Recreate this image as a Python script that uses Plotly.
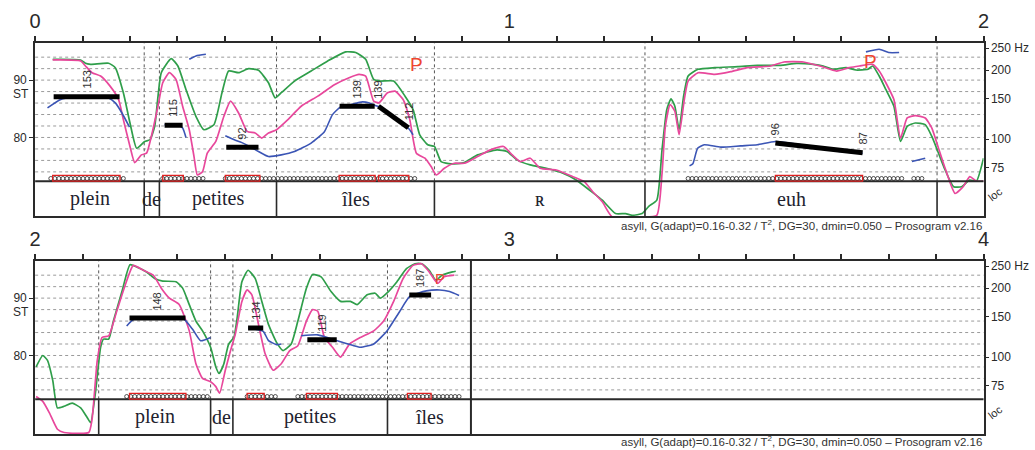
import numpy as np
import plotly.graph_objects as go

# ---------------- data (time in s, values in semitones re 1 Hz) ----------------
GREEN_TOP = [(0.037,93.63),(0.096,93.51),(0.106,92.93),(0.117,92.75),(0.155,92.93),(0.169,92.17),(0.186,87.8),
 (0.200,82.52),(0.214,78.13),(0.231,79.3),(0.242,79.6),(0.252,81.9),(0.266,91.29),(0.287,93.75),(0.301,92.46),
 (0.318,88.37),(0.339,83.69),(0.356,81.35),(0.377,82.23),(0.394,87.8),(0.408,91.58),(0.429,91.29),(0.450,91.99),
 (0.471,91.7),(0.492,89.54),(0.506,86.91),(0.519,87.8),(0.547,89.83),(0.582,91.58),(0.617,93.34),(0.655,94.92),
 (0.676,94.8),(0.697,93.63),(0.714,90.12),(0.728,89.83),(0.756,89.83),(0.780,87.2),(0.797,84.86),(0.811,80.47),
 (0.828,78.72),(0.842,78.43),(0.856,75.8),(0.877,75.39),(0.905,75.62),(0.933,76.96),(0.974,77.84),(0.995,77.55),
 (1.016,76.09),(1.044,75.21),(1.078,74.63),(1.113,73.75),(1.141,72.58),(1.169,70.82),(1.196,69.07),(1.224,66.73),
 (1.245,66.73),(1.259,66.44),(1.280,66.73),(1.294,68.0),(1.311,69.07),(1.322,77.84),(1.332,84.86),(1.341,86.73),
 (1.349,85.44),(1.358,81.35),(1.367,86.91),(1.377,90.71),(1.398,91.88),(1.433,92.17),(1.482,92.35),(1.523,92.58),
 (1.572,92.58),(1.606,92.93),(1.641,92.75),(1.662,92.46),(1.683,91.88),(1.710,92.17),(1.731,91.76),(1.756,91.88),
 (1.766,92.46),(1.780,90.71),(1.794,88.37),(1.811,85.44),(1.825,79.3),(1.839,81.94),(1.856,82.52),(1.877,82.23),
 (1.891,80.18),(1.905,77.26),(1.919,74.33),(1.937,71.41),(1.954,71.41),(1.971,72.58),(1.985,72.4),(2.0,76.4)]

PINK_TOP = [(0.037,93.51),(0.096,93.34),(0.106,92.46),(0.120,91.29),(0.138,90.71),(0.158,88.95),(0.176,86.61),
 (0.186,83.11),(0.200,78.43),(0.210,75.62),(0.224,76.96),(0.235,77.26),(0.245,80.18),(0.259,85.44),(0.269,89.54),
 (0.283,91.29),(0.297,90.12),(0.311,85.44),(0.325,81.35),(0.335,76.67),(0.342,73.46),(0.353,74.04),(0.363,77.26),
 (0.381,79.3),(0.398,83.69),(0.412,86.32),(0.429,84.27),(0.447,81.06),(0.464,80.77),(0.478,79.89),(0.492,80.77),
 (0.509,81.35),(0.533,83.11),(0.561,85.44),(0.596,87.2),(0.631,89.2),(0.662,90.42),(0.683,91.0),(0.697,90.71),
 (0.714,86.32),(0.725,86.03),(0.743,87.78),(0.759,88.08),(0.776,86.61),(0.790,83.11),(0.804,77.26),(0.822,76.38),
 (0.835,74.92),(0.846,73.46),(0.863,74.63),(0.884,75.5),(0.905,75.5),(0.933,76.67),(0.960,77.84),(0.988,78.43),
 (1.006,76.96),(1.023,75.8),(1.044,76.38),(1.065,74.63),(1.099,74.33),(1.134,73.16),(1.158,72.29),(1.176,70.53),
 (1.196,68.78),(1.217,66.15),(1.280,66.15),(1.311,66.44),(1.322,73.75),(1.329,81.94),(1.339,85.74),(1.349,84.57),
 (1.358,80.47),(1.369,86.61),(1.377,89.83),(1.398,91.29),(1.433,91.0),(1.467,91.47),(1.502,92.17),(1.551,92.46),
 (1.579,93.16),(1.620,93.16),(1.655,92.46),(1.690,91.58),(1.717,92.17),(1.738,92.46),(1.766,92.75),(1.780,91.58),
 (1.794,89.54),(1.811,86.61),(1.825,79.89),(1.839,83.4),(1.856,83.81),(1.877,83.4),(1.891,81.64),(1.905,78.13),
 (1.919,74.63),(1.940,70.24),(1.957,71.41),(1.971,73.16),(1.985,72.4),(2.0,72.4)]

BLUE_TOP = [
 [(0.026,85.15),(0.054,86.61),(0.08,87.0),(0.12,87.1),(0.155,86.9),(0.169,86.03),(0.183,84.27),(0.199,81.82)],
 [(0.325,93.63),(0.339,94.22),(0.360,94.5)],
 [(0.273,82.2),(0.300,82.2),(0.311,81.64),(0.318,80.0)],
 [(0.401,80.3),(0.420,79.6),(0.436,79.1),(0.455,78.3),(0.471,77.55),(0.492,76.67),(0.519,76.96),(0.547,77.55),
  (0.582,79.01),(0.610,81.0),(0.627,83.98),(0.644,85.3),(0.665,85.7),(0.690,86.2),(0.705,86.0),(0.716,85.6),
  (0.724,85.4),(0.755,83.5),(0.787,81.6),(0.797,80.47)],
 [(1.380,75.04),(1.387,75.4),(1.397,78.13),(1.411,78.72),(1.446,78.31),(1.488,78.54),(1.523,78.72),(1.561,79.3),
  (1.641,78.4),(1.697,77.55),(1.745,77.26)],
 [(1.752,94.92),(1.780,95.39),(1.800,94.8),(1.822,94.8)],
 [(1.849,75.8),(1.877,76.38)],
]

GREEN_BOT = [(2.002,78.0),(2.016,80.0),(2.026,79.14),(2.037,75.7),(2.047,70.86),(2.061,71.14),(2.078,71.7),
 (2.096,70.86),(2.110,69.14),(2.117,68.29),(2.127,73.43),(2.138,81.43),(2.144,82.86),(2.155,82.86),(2.165,86.0),
 (2.183,91.14),(2.200,95.83),(2.214,95.43),(2.235,94.57),(2.252,93.43),(2.269,92.97),(2.297,92.86),(2.311,91.74),
 (2.325,88.86),(2.339,86.0),(2.353,84.29),(2.370,81.43),(2.381,78.0),(2.388,76.86),(2.398,78.57),(2.408,82.0),
 (2.419,83.14),(2.426,86.57),(2.436,92.86),(2.449,94.86),(2.464,93.43),(2.478,89.43),(2.492,85.43),(2.509,82.29),
 (2.523,80.86),(2.540,82.0),(2.554,86.0),(2.572,91.71),(2.585,94.11),(2.603,93.71),(2.624,91.14),(2.644,89.43),
 (2.665,89.43),(2.679,88.86),(2.700,90.57),(2.717,90.86),(2.728,90.0),(2.745,91.14),(2.763,92.86),(2.783,95.14),
 (2.801,96.0),(2.815,96.0),(2.831,94.86),(2.845,93.14),(2.858,94.0),(2.880,94.57),(2.887,94.69)]

PINK_BOT = [(2.002,72.86),(2.016,72.0),(2.030,70.0),(2.047,67.14),(2.061,66.57),(2.113,66.57),(2.120,68.86),
 (2.131,79.14),(2.141,83.14),(2.155,83.43),(2.172,87.71),(2.190,92.29),(2.207,95.71),(2.228,94.86),(2.249,94.0),
 (2.266,91.74),(2.283,90.0),(2.304,88.86),(2.325,84.29),(2.339,78.57),(2.353,76.0),(2.370,75.43),(2.381,74.57),
 (2.389,73.43),(2.401,77.43),(2.412,80.86),(2.422,83.71),(2.436,89.43),(2.447,91.43),(2.457,90.57),(2.471,85.43),
 (2.485,80.29),(2.502,77.43),(2.519,78.57),(2.537,80.86),(2.554,81.71),(2.572,86.0),(2.585,88.0),(2.596,87.71),
 (2.610,83.14),(2.627,81.43),(2.644,79.71),(2.663,82.0),(2.686,83.14),(2.714,84.29),(2.735,86.0),(2.756,89.43),
 (2.776,93.43),(2.797,95.71),(2.815,96.0),(2.831,94.57),(2.849,92.57),(2.862,93.71),(2.884,94.0)]

BLUE_BOT = [
 [(2.193,85.14),(2.207,86.29),(2.25,86.6),(2.29,86.6),(2.311,86.57),(2.332,84.57),(2.349,82.57),(2.370,83.14)],
 [(2.449,84.8),(2.481,84.2),(2.492,82.6),(2.509,81.9),(2.519,82.0)],
 [(2.561,83.43),(2.596,83.6),(2.6375,82.57),(2.672,81.71),(2.686,81.43),(2.714,82.0),(2.742,84.29),(2.769,87.71),
  (2.790,90.29),(2.825,91.26),(2.853,91.43),(2.874,91.14),(2.894,90.46)],
]

# stylised pitch: start time, end time, start Hz, end Hz
STYL_TOP = [(0.039,0.178,153,153),(0.273,0.311,115,115),(0.403,0.471,92,92),
            (0.642,0.716,139,139),(0.724,0.787,139,112),(1.561,1.745,96,87)]
STYL_BOT = [(2.199,2.317,148,148),(2.449,2.481,134,134),(2.574,2.636,119,119),(2.789,2.835,187,187)]

P_TOP = [(0.804,92.76),(1.7625,93.3)]
P_BOT = [(2.853,93.4)]

LOOPS_TOP = [(0.033,0.193),(0.269,0.360),(0.401,0.801),(1.377,1.829),(1.853,1.874)]
NUCLEI_TOP = [(0.037,0.179),(0.269,0.3125),(0.401,0.474),(0.641,0.717),(0.724,0.788),(1.561,1.745)]
LOOPS_BOT = [(2.193,2.370),(2.447,2.513),(2.554,2.894)]
NUCLEI_BOT = [(2.199,2.318),(2.447,2.483),(2.572,2.6375),(2.785,2.835)]

BOUNDS_TOP = [0.0, 0.230, 0.262, 0.509, 0.842, 1.286, 1.902, 2.0]
SYLL_TOP = ["plein", "de", "petites", "îles", "ʀ", "euh", ""]
BOUNDS_BOT = [2.0, 2.134, 2.370, 2.417, 2.743, 2.919, 4.0]
SYLL_BOT = ["", "plein", "de", "petites", "îles", ""]
SIGNAL_END = 2.919

HZ_TICKS = [75, 100, 150, 200, 250]
HZ_TEXT = ["75", "100", "150", "200", "250 Hz"]
ST_TICKS = [80, 90]
GRID_ST = [74, 76, 78, 80, 82, 84, 86, 88, 90, 92, 94]
FOOTNOTE = "asyll, G(adapt)=0.16-0.32 / T<sup>2</sup>, DG=30, dmin=0.050 – Prosogram v2.16"

# ---------------- layout helpers ----------------
W, H = 1035, 450
XD = [29.5 / W, 989 / W]
PANELS = [
    dict(xa="x", ya="y", yh="y3", rng=[0, 2], dom=[1 - 215 / H, 1 - 41 / H], top=41, foot=224),
    dict(xa="x2", ya="y2", yh="y4", rng=[2, 4], dom=[1 - 434 / H, 1 - 260 / H], top=260, foot=441),
]
Y_RANGE = [66.3, 96.5]
TIER_TOP = 72.35

GREEN = "#2f9e4a"
PINK = "#e8489c"
BLUE = "#3b55b5"
RED = "#ee4630"
INK = "#2a2a2a"
SANS = "Liberation Sans, Arial, sans-serif"
SERIF = "Liberation Serif, DejaVu Serif, serif"


def st(hz):
    return 12 * np.log2(hz)


fig = go.Figure()
shapes, annos = [], []


def line_trace(pairs, color, width, xa, ya):
    fig.add_trace(go.Scatter(x=[p[0] for p in pairs], y=[p[1] for p in pairs], mode="lines",
                             line=dict(color=color, width=width, shape="spline", smoothing=0.5),
                             xaxis=xa, yaxis=ya, hoverinfo="skip", showlegend=False))


data = [
    (GREEN_TOP, PINK_TOP, BLUE_TOP, STYL_TOP, P_TOP, LOOPS_TOP, NUCLEI_TOP, BOUNDS_TOP, SYLL_TOP),
    (GREEN_BOT, PINK_BOT, BLUE_BOT, STYL_BOT, P_BOT, LOOPS_BOT, NUCLEI_BOT, BOUNDS_BOT, SYLL_BOT),
]

for pi, (panel, d) in enumerate(zip(PANELS, data)):
    green, pink, blue, styl, pmarks, loops, nuclei, bounds, sylls = d
    xa, ya = panel["xa"], panel["ya"]
    xr, yr = xa, ya

    # grid lines
    for lvl in GRID_ST:
        shapes.append(dict(type="line", xref=f"{xr} domain", x0=0, x1=1, yref=yr, y0=lvl, y1=lvl,
                           line=dict(color="#9a9a9a", width=1, dash="dot"), layer="below"))
    # tier separator
    shapes.append(dict(type="line", xref=f"{xr} domain", x0=0, x1=1, yref=yr, y0=TIER_TOP, y1=TIER_TOP,
                       line=dict(color=INK, width=2)))
    # boundaries
    for b in bounds[1:-1]:
        if abs(b - SIGNAL_END) < 1e-9:
            shapes.append(dict(type="line", xref=xr, x0=b, x1=b, yref=yr, y0=Y_RANGE[0], y1=Y_RANGE[1],
                               line=dict(color=INK, width=2)))
            continue
        shapes.append(dict(type="line", xref=xr, x0=b, x1=b, yref=yr, y0=TIER_TOP, y1=Y_RANGE[1],
                           line=dict(color="#555555", width=1, dash="dot"), layer="below"))
        shapes.append(dict(type="line", xref=xr, x0=b, x1=b, yref=yr, y0=Y_RANGE[0], y1=TIER_TOP,
                           line=dict(color=INK, width=1.6)))
    # syllable labels
    for a, b, s in zip(bounds[:-1], bounds[1:], sylls):
        if s:
            annos.append(dict(xref=xr, yref=yr, x=(a + b) / 2, y=(Y_RANGE[0] + TIER_TOP) / 2, text=s,
                              showarrow=False, font=dict(family=SERIF, size=20, color="#22222e"),
                              xanchor="center", yanchor="middle"))

    # curves
    line_trace(green, GREEN, 1.7, xa, ya)
    line_trace(pink, PINK, 1.7, xa, ya)
    for seg in blue:
        line_trace(seg, BLUE, 1.6, xa, ya)

    # loops + nuclei
    lx = []
    for a, b in loops:
        lx.extend(np.arange(a, b, 0.0085).tolist())
    fig.add_trace(go.Scatter(x=lx, y=[TIER_TOP + 0.5] * len(lx), mode="markers",
                             marker=dict(symbol="circle-open", size=4, color=INK, line=dict(width=0.8)),
                             xaxis=xa, yaxis=ya, hoverinfo="skip", showlegend=False, cliponaxis=False))
    for a, b in nuclei:
        shapes.append(dict(type="rect", xref=xr, x0=a, x1=b, yref=yr, y0=TIER_TOP + 0.05, y1=TIER_TOP + 1.05,
                           line=dict(color="#e02020", width=1.3), fillcolor="rgba(0,0,0,0)"))

    # stylised pitch
    for t0, t1, h0, h1 in styl:
        fig.add_trace(go.Scatter(x=[t0, t1], y=[st(h0), st(h1)], mode="lines",
                                 line=dict(color="black", width=5), xaxis=xa, yaxis=ya,
                                 hoverinfo="skip", showlegend=False))
        labels = [((t0 + t1) / 2, st(h0), h0)] if h0 == h1 else [(t0, st(h0), h0), (t1, st(h1), h1)]
        for tx, ty, hz in labels:
            annos.append(dict(xref=xr, yref=yr, x=tx, y=ty, text=str(hz), textangle=-90, showarrow=False,
                              font=dict(family=SANS, size=11, color="#333333"),
                              xanchor="center", yanchor="bottom", yshift=6))
    # P marks
    for tx, ty in pmarks:
        annos.append(dict(xref=xr, yref=yr, x=tx, y=ty, text="P", showarrow=False,
                          font=dict(family=SANS, size=19 if pi == 0 else 15, color=RED),
                          xanchor="center", yanchor="middle"))

    # ST label, loc label, footnote
    top_px = panel["top"]
    annos.append(dict(xref="paper", yref="paper", x=15 / W, y=1 - (top_px + 51) / H, text="ST",
                      showarrow=False, font=dict(family=SANS, size=12, color=INK),
                      xanchor="center", yanchor="middle"))
    annos.append(dict(xref="paper", yref="paper", x=1001 / W, y=1 - (top_px + 152) / H, text="loc",
                      textangle=-38, showarrow=False, font=dict(family=SANS, size=11, color=INK),
                      xanchor="center", yanchor="middle"))
    annos.append(dict(xref="paper", yref="paper", x=989 / W, y=1 - panel["foot"] / H, text=FOOTNOTE,
                      showarrow=False, font=dict(family=SANS, size=11.5, color="#333333"),
                      xanchor="right", yanchor="middle"))

# axes
layout_axes = {}
for i, panel in enumerate(PANELS):
    n = "" if i == 0 else "2"
    x0 = panel["rng"][0]
    tv = [round(x0 + k * 0.1, 1) for k in range(21)]
    tt = [str(int(v)) if abs(v - round(v)) < 1e-9 else " " for v in tv]
    layout_axes[f"xaxis{n}"] = dict(domain=XD, range=panel["rng"], anchor=panel["ya"], side="top",
                                    tickvals=tv, ticktext=tt, ticks="outside", ticklen=5, tickwidth=1.5,
                                    tickcolor=INK, showline=True, mirror=True, linewidth=2, linecolor=INK,
                                    showgrid=False, zeroline=False, fixedrange=True,
                                    tickfont=dict(family=SANS, size=20, color=INK))
    layout_axes[f"yaxis{n}"] = dict(domain=panel["dom"], range=Y_RANGE, anchor=panel["xa"],
                                    tickvals=ST_TICKS, ticktext=[str(v) for v in ST_TICKS],
                                    ticks="outside", ticklen=4, tickwidth=1, tickcolor=INK,
                                    showline=True, mirror=True, linewidth=2, linecolor=INK,
                                    showgrid=False, zeroline=False,
                                    tickfont=dict(family=SANS, size=12, color=INK))
    hn = "3" if i == 0 else "4"
    layout_axes[f"yaxis{hn}"] = dict(overlaying=panel["ya"], anchor=panel["xa"], side="right",
                                     range=Y_RANGE, tickvals=[st(h) for h in HZ_TICKS], ticktext=HZ_TEXT,
                                     ticks="outside", ticklen=4, tickwidth=1, tickcolor=INK,
                                     showline=False, showgrid=False, zeroline=False,
                                     tickfont=dict(family=SANS, size=12, color=INK))

# invisible traces so the Hz axes render
for i, panel in enumerate(PANELS):
    fig.add_trace(go.Scatter(x=[panel["rng"][0]], y=[80], mode="markers", marker=dict(opacity=0),
                             xaxis=panel["xa"], yaxis=panel["yh"], hoverinfo="skip", showlegend=False))

fig.update_layout(width=W, height=H, margin=dict(l=0, r=0, t=0, b=0),
                  paper_bgcolor="white", plot_bgcolor="white", showlegend=False,
                  shapes=shapes, annotations=annos, **layout_axes)

fig.write_html("out.html")
